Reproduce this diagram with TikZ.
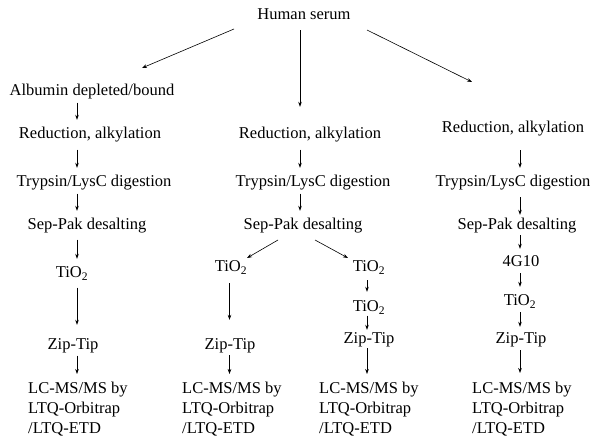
\documentclass[tikz,border=0pt]{standalone}
\usepackage{fontspec}
\setmainfont{Liberation Serif}
\usetikzlibrary{arrows.meta}

\begin{document}
\begin{tikzpicture}[
        x=1pt, y=-1pt,
        every node/.style={font=\fontsize{16.5}{20}\selectfont, inner sep=0pt},
        stepnode/.style={anchor=base, text height=11pt, text depth=3.5pt},
        msnode/.style={anchor=north west, align=left},
        tip/.style={-{Stealth[length=5pt,width=3.6pt]}, line width=0.6pt},
        arr/.style={tip, shorten <=3pt, shorten >=8pt}
    ]
    \useasboundingbox (0,0) rectangle (600,443);

    % column lines of the vertical arrows
    \coordinate (colA) at (77,0);
    \coordinate (colB) at (300,0);
    \coordinate (colBl) at (229.5,0);
    \coordinate (colBr) at (367,0);
    \coordinate (colC) at (520,0);

    \node[stepnode] (serum) at (304,20) {Human serum};

    % left branch
    \node[stepnode] (albumin) at (92,96) {Albumin depleted/bound};
    \node[stepnode] (redA) at (90,139) {Reduction, alkylation};
    \node[stepnode] (trypA) at (94,187) {Trypsin/LysC digestion};
    \node[stepnode] (sepA) at (87,230) {Sep-Pak desalting};
    \node[stepnode] (tioA) at (72,278) {TiO\textsubscript{2}};
    \node[stepnode] (zipA) at (73,350) {Zip-Tip};
    \node[msnode] (lcmsA) at (28,382) {LC-MS/MS by\\LTQ-Orbitrap\\/LTQ-ETD};

    % middle branch
    \node[stepnode] (redB) at (310,139) {Reduction, alkylation};
    \node[stepnode] (trypB) at (313,187) {Trypsin/LysC digestion};
    \node[stepnode] (sepB) at (303,230) {Sep-Pak desalting};
    \node[stepnode] (tioBl) at (231,272) {TiO\textsubscript{2}};
    \node[stepnode] (tioBr) at (369,272) {TiO\textsubscript{2}};
    \node[stepnode] (tioBr2) at (369,312) {TiO\textsubscript{2}};
    \node[stepnode] (zipBl) at (230,350) {Zip-Tip};
    \node[stepnode] (zipBr) at (369,344) {Zip-Tip};
    \node[msnode] (lcmsBl) at (182,382) {LC-MS/MS by\\LTQ-Orbitrap\\/LTQ-ETD};
    \node[msnode] (lcmsBr) at (319,382) {LC-MS/MS by\\LTQ-Orbitrap\\/LTQ-ETD};

    % right branch
    \node[stepnode] (redC) at (513,133) {Reduction, alkylation};
    \node[stepnode] (trypC) at (513,187) {Trypsin/LysC digestion};
    \node[stepnode] (sepC) at (517,230) {Sep-Pak desalting};
    \node[stepnode] (gC) at (521,267) {4G10};
    \node[stepnode] (tioC) at (520,306) {TiO\textsubscript{2}};
    \node[stepnode] (zipC) at (521,344) {Zip-Tip};
    \node[msnode] (lcmsC) at (472,382) {LC-MS/MS by\\LTQ-Orbitrap\\/LTQ-ETD};

    % from the serum
    \draw[tip] ([shift={(-70,9)}]serum.base) -- ([shift={(50,-28)}]albumin.base);
    \draw[arr, shorten <=6.5pt, shorten >=21pt] (serum.south -| colB) -- (redB.north -| colB);
    \draw[tip] ([shift={(63,10)}]serum.base) -- ([shift={(-41,-51)}]redC.base);

    % left branch
    \draw[arr] (albumin.south -| colA) -- (redA.north -| colA);
    \draw[arr, shorten <=7pt] (redA.south -| colA) -- (trypA.north -| colA);
    \draw[arr] (trypA.south -| colA) -- (sepA.north -| colA);
    \draw[arr, shorten <=6pt] (sepA.south -| colA) -- (tioA.north -| colA);
    \draw[arr, shorten <=6pt, shorten >=14pt] (tioA.south -| colA) -- (zipA.north -| colA);
    \draw[arr, shorten <=2pt] (zipA.south -| colA) -- (lcmsA.north -| colA);

    % middle branch
    \draw[arr, shorten <=7pt] (redB.south -| colB) -- (trypB.north -| colB);
    \draw[arr] (trypB.south -| colB) -- (sepB.north -| colB);
    \draw[tip] ([shift={(-25,10)}]sepB.base) -- ([shift={(16,-14)}]tioBl.base);
    \draw[tip] ([shift={(12,10)}]sepB.base) -- ([shift={(-21,-14)}]tioBr.base);
    \draw[arr, shorten <=7.5pt, shorten >=19pt] (tioBl.south -| colBl) -- (zipBl.north -| colBl);
    \draw[arr, shorten <=1.5pt] (zipBl.south -| colBl) -- (lcmsBl.north -| colBl);
    \draw[arr, shorten <=4.5pt, shorten >=9pt] (tioBr.south -| colBr) -- (tioBr2.north -| colBr);
    \draw[arr, shorten <=0pt, shorten >=3pt] (tioBr2.south -| colBr) -- (zipBr.north -| colBr);
    \draw[arr, shorten <=0.5pt] (zipBr.south -| colBr) -- (lcmsBr.north -| colBr);

    % right branch
    \draw[arr, shorten <=13.5pt] (redC.south -| colC) -- (trypC.north -| colC);
    \draw[arr, shorten <=6.5pt, shorten >=4pt] (trypC.south -| colC) -- (sepC.north -| colC);
    \draw[arr, shorten <=1.5pt, shorten >=7pt] (sepC.south -| colC) -- (gC.north -| colC);
    \draw[arr, shorten <=2.5pt] (gC.south -| colC) -- (tioC.north -| colC);
    \draw[arr, shorten <=2.5pt, shorten >=6pt] (tioC.south -| colC) -- (zipC.north -| colC);
    \draw[arr, shorten <=2.5pt, shorten >=9pt] (zipC.south -| colC) -- (lcmsC.north -| colC);
\end{tikzpicture}
\end{document}
